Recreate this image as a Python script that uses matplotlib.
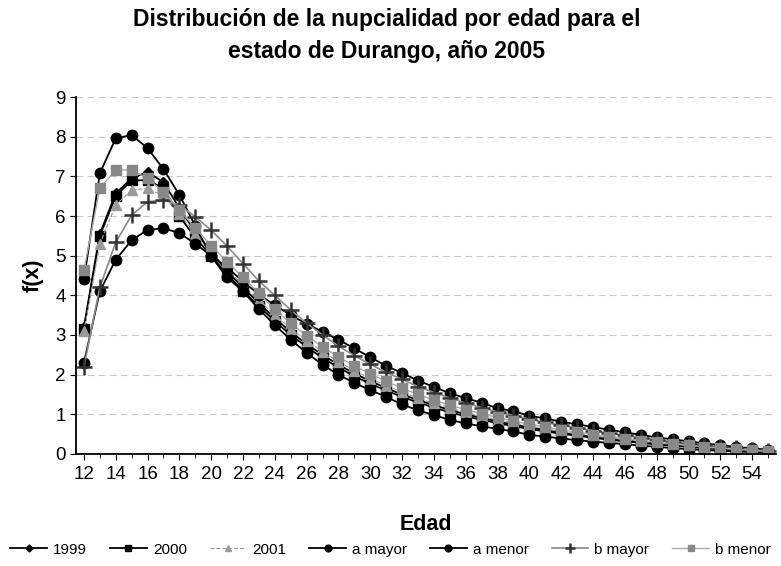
import matplotlib.pyplot as plt

plt.rcParams['font.family'] = ['Liberation Sans', 'DejaVu Sans']

edades = list(range(12, 56))

f_1999 = [3.20, 5.55, 6.57, 6.95, 7.11, 6.85, 6.20, 5.60, 5.10, 4.60, 4.20, 3.80,
          3.42, 3.08, 2.77, 2.50, 2.25, 2.03, 1.84, 1.66, 1.50, 1.36, 1.23, 1.11,
          1.00, 0.91, 0.82, 0.74, 0.67, 0.60, 0.54, 0.48, 0.43, 0.38, 0.34, 0.30,
          0.26, 0.22, 0.19, 0.16, 0.13, 0.10, 0.08, 0.06]
f_2000 = [3.15, 5.50, 6.50, 6.90, 6.90, 6.70, 6.00, 5.45, 5.00, 4.52, 4.12, 3.72,
          3.35, 3.00, 2.70, 2.42, 2.18, 1.96, 1.77, 1.60, 1.44, 1.30, 1.17, 1.05,
          0.95, 0.86, 0.78, 0.70, 0.63, 0.57, 0.51, 0.46, 0.41, 0.36, 0.32, 0.28,
          0.24, 0.21, 0.18, 0.15, 0.12, 0.10, 0.08, 0.06]
f_2001 = [3.10, 5.30, 6.28, 6.65, 6.70, 6.50, 6.05, 5.55, 5.08, 4.65, 4.25, 3.87,
          3.50, 3.16, 2.86, 2.58, 2.33, 2.10, 1.90, 1.72, 1.56, 1.41, 1.28, 1.16,
          1.05, 0.95, 0.86, 0.78, 0.70, 0.63, 0.57, 0.51, 0.46, 0.41, 0.36, 0.32,
          0.28, 0.24, 0.21, 0.17, 0.14, 0.11, 0.09, 0.07]
a_mayor = [4.40, 7.08, 7.96, 8.04, 7.71, 7.18, 6.53, 5.75, 4.98, 4.45, 4.10, 3.65,
           3.25, 2.88, 2.55, 2.25, 2.00, 1.79, 1.61, 1.44, 1.25, 1.10, 0.98, 0.86,
           0.77, 0.70, 0.63, 0.57, 0.48, 0.44, 0.39, 0.35, 0.31, 0.28, 0.25, 0.21,
           0.18, 0.15, 0.12, 0.10, 0.08, 0.06, 0.05, 0.04]
a_menor = [2.30, 4.10, 4.90, 5.39, 5.65, 5.69, 5.57, 5.30, 5.00, 4.70, 4.35, 4.02,
           3.75, 3.50, 3.28, 3.08, 2.88, 2.66, 2.44, 2.22, 2.04, 1.85, 1.69, 1.53,
           1.41, 1.29, 1.15, 1.08, 0.96, 0.90, 0.81, 0.75, 0.68, 0.61, 0.55, 0.48,
           0.42, 0.37, 0.32, 0.27, 0.22, 0.18, 0.14, 0.11]
b_mayor = [2.20, 4.20, 5.34, 6.02, 6.36, 6.40, 6.28, 5.98, 5.64, 5.24, 4.80, 4.36,
           4.00, 3.63, 3.30, 3.00, 2.72, 2.48, 2.26, 2.06, 1.88, 1.70, 1.55, 1.41,
           1.28, 1.17, 1.06, 0.97, 0.88, 0.80, 0.72, 0.66, 0.59, 0.53, 0.47, 0.41,
           0.36, 0.31, 0.26, 0.22, 0.18, 0.14, 0.11, 0.08]
b_menor = [4.64, 6.70, 7.16, 7.16, 6.95, 6.60, 6.15, 5.70, 5.25, 4.85, 4.45, 4.05,
           3.65, 3.30, 2.98, 2.70, 2.45, 2.22, 2.02, 1.83, 1.66, 1.50, 1.36, 1.23,
           1.12, 1.01, 0.92, 0.83, 0.75, 0.68, 0.61, 0.55, 0.49, 0.44, 0.39, 0.34,
           0.30, 0.26, 0.22, 0.18, 0.15, 0.12, 0.09, 0.07]

series = [
    ("1999", f_1999, dict(color="black", marker="D", markersize=5.5, lw=1.3)),
    ("2000", f_2000, dict(color="black", marker="s", markersize=6.5, lw=1.3)),
    ("2001", f_2001, dict(color="#9a9a9a", marker="^", markersize=6.5, lw=0.8, ls="--")),
    ("a mayor", a_mayor, dict(color="black", marker="o", markersize=7.5, lw=1.3)),
    ("a menor", a_menor, dict(color="black", marker="o", markersize=7.5, lw=1.3)),
    ("b mayor", b_mayor, dict(color="#8a8a8a", marker="+", markersize=11, mew=1.8,
                              mec="#333333", lw=1.2)),
    ("b menor", b_menor, dict(color="#aaaaaa", marker="s", markersize=6.5,
                              mfc="#888888", mec="#888888", lw=1.0)),
]

fig = plt.figure(figsize=(7.81, 5.66), dpi=100)
ax = fig.add_axes([0.0973, 0.1979, 0.8963, 0.6307])

x = list(range(len(edades)))
for nombre, valores, estilo in series:
    ax.plot(x, valores, label=nombre, **estilo)

ax.set_xlim(-0.5, len(edades) - 0.5)
ax.set_ylim(0, 9)
ax.set_yticks(range(0, 10))
ax.set_xticks(x[::2])
ax.set_xticklabels([str(e) for e in edades[::2]])
ax.set_xticks(x, minor=True)
ax.tick_params(axis="both", labelsize=13.5, direction="out", length=4)
ax.tick_params(axis="x", which="minor", length=3)
ax.tick_params(axis="x", pad=5)

ax.grid(axis="y", linestyle=(0, (6, 4)), color="#c8c8c8", lw=0.8)
ax.set_axisbelow(True)
for lado in ["top", "right"]:
    ax.spines[lado].set_visible(False)
ax.spines["left"].set_linewidth(1.3)
ax.spines["bottom"].set_linewidth(1.3)

ax.set_ylabel("f(x)", fontsize=15.5, fontweight="bold", labelpad=8)
ax.set_xlabel("Edad", fontsize=15.5, fontweight="bold", labelpad=22)
fig.suptitle("Distribución de la nupcialidad por edad para el\nestado de Durango, año 2005",
             fontsize=16.5, fontweight="bold", x=0.495, y=0.985, linespacing=1.45)

fig.legend(loc="lower center", bbox_to_anchor=(0.5, -0.008), ncol=7, frameon=False,
           fontsize=11, handlelength=2.4, columnspacing=1.5, handletextpad=0.4,
           markerscale=0.65)

fig.savefig("out.png", dpi=100)
